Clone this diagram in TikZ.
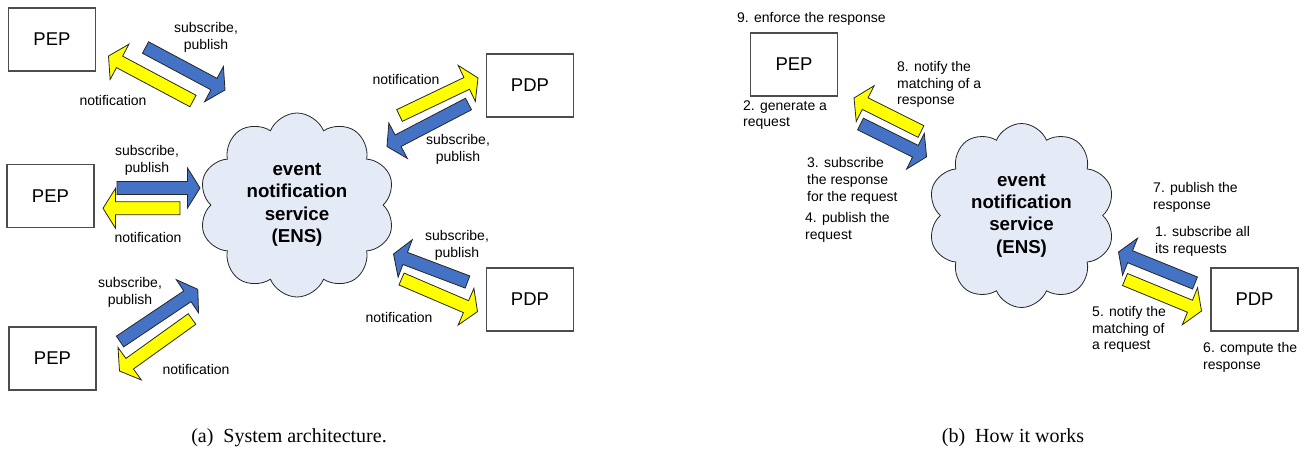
\documentclass[tikz,border=0pt]{standalone}
\usepackage{fontspec}
\setmainfont{Liberation Sans}
\newfontfamily\capfont{Liberation Serif}
\usepackage{tikz}
\usetikzlibrary{calc}
\usetikzlibrary{shapes.symbols}
\usetikzlibrary{positioning}
\definecolor{ensblue}{RGB}{68,114,196}
\definecolor{ensyellow}{RGB}{255,255,0}
\definecolor{cloudfill}{RGB}{228,234,246}
\tikzset{box/.style={draw=black!70, line width=1.1pt, fill=white, minimum width=87pt, minimum height=63pt, font=\fontsize{18.5}{22}\selectfont}}
\tikzset{ens/.style={cloud, cloud puffs=10, cloud puff arc=135, draw=black!85, line width=0.8pt, fill=cloudfill, minimum width=196pt, minimum height=184pt, align=center, inner sep=0pt, font=\bfseries\fontsize{18.7}{22.4}\selectfont}}
\tikzset{lbl/.style={align=center, inner sep=0pt, font=\fontsize{14}{16.8}\selectfont}}
\tikzset{note/.style={align=left, anchor=west, inner sep=0pt, font=\fontsize{14}{16.8}\selectfont}}
\tikzset{subcap/.style={anchor=base, inner sep=0pt, font=\capfont\fontsize{20}{24}\selectfont}}
\tikzset{bluearr/.style={draw=black!85, fill=ensblue, line width=0.8pt}}
\tikzset{yellarr/.style={draw=black!85, fill=ensyellow, line width=0.8pt}}
% fat block arrow from tail #2 to tip #3
\newcommand{\shaftw}{6.5pt}
\newcommand{\headw}{20pt}
\newcommand{\headl}{12.5pt}
\newcommand{\fatarrow}[3]{%
  \coordinate (hb) at ($(#3)!\headl!(#2)$);
  \draw[#1] ($(#2)!\shaftw!90:(#3)$) -- ($(hb)!\shaftw!90:(#3)$)
    -- ($(hb)!\headw!90:(#3)$) -- (#3)
    -- ($(hb)!\headw!-90:(#3)$) -- ($(hb)!\shaftw!-90:(#3)$)
    -- ($(#2)!\shaftw!-90:(#3)$) -- cycle;}

\begin{document}
\begin{tikzpicture}[x=1pt,y=-1pt]
\useasboundingbox (0,0) rectangle (1305,450);

% (a) architecture
\node[box](PEP1) at (52,39.5){PEP};
\node[box](PEP2) at (50.5,196){PEP};
\node[box](PEP3) at (52.5,358.5){PEP};
\node[box](PDP1) at (530,85.5){PDP};
\node[box](PDP2) at (530,299.5){PDP};
\node[ens](ENS) at (297,205){event\\notification\\service\\(ENS)};

\coordinate (a1s) at (145.5,47.5);  \coordinate (a1t) at (225,90);
\coordinate (a1r) at (193,101);     \coordinate (a1n) at (108.5,56);
\coordinate (a2s) at (117,188);     \coordinate (a2t) at (200,188);
\coordinate (a2r) at (180,208.3);   \coordinate (a2n) at (103,208.3);
\coordinate (a3s) at (120,341.5);   \coordinate (a3t) at (197.8,289.3);
\coordinate (a3r) at (192,319);     \coordinate (a3n) at (119.5,371);
\coordinate (a4r) at (399.5,115.5); \coordinate (a4n) at (478,78);
\coordinate (a4s) at (468.5,104);   \coordinate (a4t) at (387,146.5);
\coordinate (a5s) at (467.5,282);   \coordinate (a5t) at (393.5,254);
\coordinate (a5r) at (401.5,279);   \coordinate (a5n) at (477.5,311.6);
\fatarrow{bluearr}{a1s}{a1t}
\fatarrow{yellarr}{a1r}{a1n}
\fatarrow{bluearr}{a2s}{a2t}
\fatarrow{yellarr}{a2r}{a2n}
\fatarrow{bluearr}{a3s}{a3t}
\fatarrow{yellarr}{a3r}{a3n}
\fatarrow{yellarr}{a4r}{a4n}
\fatarrow{bluearr}{a4s}{a4t}
\fatarrow{bluearr}{a5s}{a5t}
\fatarrow{yellarr}{a5r}{a5n}

\node[lbl](sp1) at (206,37){subscribe,\\publish};
\node[lbl](nt1) at (113,100){notification};
\node[lbl](sp2) at (147,160){subscribe,\\publish};
\node[lbl](nt2) at (148,237){notification};
\node[lbl](sp3) at (130,292){subscribe,\\publish};
\node[lbl](nt3) at (196,369){notification};
\node[lbl](nt4) at (406,79){notification};
\node[lbl](sp4) at (458,149){subscribe,\\publish};
\node[lbl](sp5) at (457,245){subscribe,\\publish};
\node[lbl](nt5) at (399,317){notification};

% (b) how it works
\node[box](PEPb) at (794,64.5){PEP};
\node[box](PDPb) at (1254.5,299.5){PDP};
\node[ens, minimum width=187pt](ENSb) at (1021.5,215.5){event\\notification\\service\\(ENS)};

\coordinate (b1r) at (921,131.5);   \coordinate (b1n) at (854,98);
\coordinate (b1s) at (860.5,124);   \coordinate (b1t) at (926.6,156.8);
\coordinate (b2s) at (1195,283);    \coordinate (b2t) at (1118.5,252);
\coordinate (b2r) at (1125,279.5);  \coordinate (b2n) at (1201.5,311);
\fatarrow{yellarr}{b1r}{b1n}
\fatarrow{bluearr}{b1s}{b1t}
\fatarrow{bluearr}{b2s}{b2t}
\fatarrow{yellarr}{b2r}{b2n}

\node[note](st9) at (737,19){9. enforce the response};
\node[note](st2) at (743,115){2. generate a\\request};
\node[note](st8) at (897,84.5){8. notify the\\matching of a\\response};
\node[note](st3) at (807,181){3. subscribe\\the response\\for the request};
\node[note](st4) at (805,227.5){4. publish the\\request};
\node[note](st7) at (1153,197.5){7. publish the\\response};
\node[note](st1) at (1155,241){1. subscribe all\\its requests};
\node[note](st5) at (1092,329.5){5. notify the\\matching of\\a request};
\node[note](st6) at (1203,357.5){6. compute the\\response};

\node[subcap](capA) at (289,442){(a)\ \ System architecture.};
\node[subcap](capB) at (1013,442){(b)\ \ How it works};
\end{tikzpicture}
\end{document}
